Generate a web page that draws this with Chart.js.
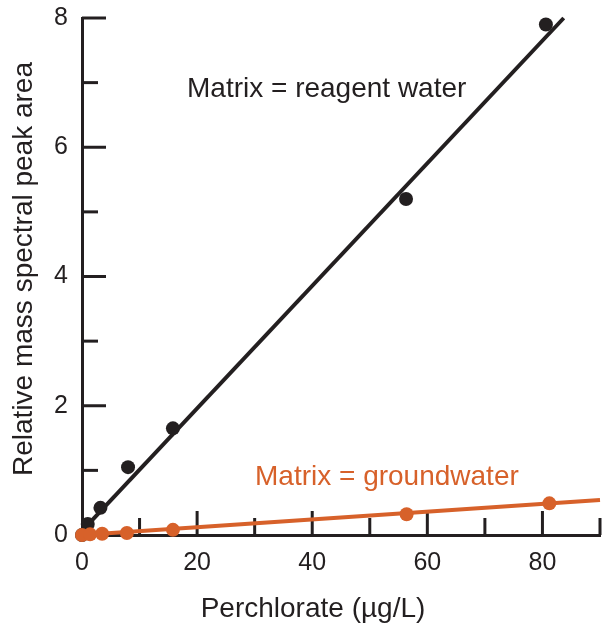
<!DOCTYPE html>
<html>
<head>
<meta charset="utf-8">
<script src="https://cdn.jsdelivr.net/npm/chart.js@4.4.1/dist/chart.umd.min.js"></script>
<style>
html,body{margin:0;padding:0;background:#fff;}
#wrap{width:602px;height:627px;}
</style>
</head>
<body>
<div id="wrap"><canvas id="c" width="602" height="627"></canvas></div>
<script>
// ---- data ----
const reagentX = [0, 1, 3.2, 8, 15.8, 56.3, 80.6];
const reagentY = [0, 0.17, 0.42, 1.05, 1.65, 5.2, 7.9];
const groundX = [0, 1.4, 3.5, 7.8, 15.8, 56.4, 81.2];
const groundY = [0, 0.01, 0.02, 0.03, 0.08, 0.32, 0.49];
const reagentFitX = [0.3, 83.7];
const reagentFitY = [0.09, 8.0];
const groundFitX = [0, 90];
const groundFitY = [0, 0.54];
const xTickLabels = [0, 20, 40, 60, 80];
const yTickLabels = [0, 2, 4, 6, 8];
const seriesNames = ['Matrix = reagent water', 'Matrix = groundwater'];
const xTitle = 'Perchlorate (\u00b5g/L)';
const yTitle = 'Relative mass spectral peak area';

const BLACK = '#231f20';
const ORANGE = '#d7612a';
const FONT = "'Liberation Sans', Arial, Helvetica, sans-serif";

const pts = (xs, ys) => xs.map((x, i) => ({x: x, y: ys[i]}));

const tickPlugin = {
  id: 'inwardTicks',
  beforeDatasetsDraw(chart) {
    const ctx = chart.ctx;
    const xs = chart.scales.x, ys = chart.scales.y;
    const left = chart.chartArea.left, bottom = chart.chartArea.bottom;
    ctx.save();
    ctx.strokeStyle = BLACK;
    ctx.lineWidth = 3;
    ctx.lineCap = 'butt';
    xs.ticks.forEach(t => {
      if (t.value === 0) return;
      const px = xs.getPixelForValue(t.value);
      const len = xTickLabels.includes(t.value) ? 24 : 17;
      ctx.beginPath(); ctx.moveTo(px, bottom); ctx.lineTo(px, bottom - len); ctx.stroke();
    });
    ys.ticks.forEach(t => {
      if (t.value === 0) return;
      const py = ys.getPixelForValue(t.value);
      const len = yTickLabels.includes(t.value) ? 24 : 16;
      ctx.beginPath(); ctx.moveTo(left, py); ctx.lineTo(left + len, py); ctx.stroke();
    });
    ctx.restore();
  },
  afterDraw(chart) {
    const ctx = chart.ctx;
    ctx.save();
    ctx.font = '28px ' + FONT;
    ctx.textAlign = 'left';
    ctx.textBaseline = 'alphabetic';
    ctx.fillStyle = BLACK;
    ctx.fillText(seriesNames[0], 187, 97);
    ctx.fillStyle = ORANGE;
    ctx.fillText(seriesNames[1], 255, 485);
    // axis titles
    ctx.fillStyle = BLACK;
    ctx.textAlign = 'center';
    ctx.fillText(xTitle, 313, 617);
    ctx.translate(32, 269);
    ctx.rotate(-Math.PI / 2);
    ctx.fillText(yTitle, 0, 0);
    ctx.restore();
  }
};

const zeroPad = s => { s.paddingLeft = 0; s.paddingRight = 0; s.paddingTop = 0; s.paddingBottom = 0; };

new Chart(document.getElementById('c'), {
  type: 'scatter',
  data: {
    datasets: [
      {label: seriesNames[0] + ' fit', data: pts(reagentFitX, reagentFitY), showLine: true, borderColor: BLACK, borderWidth: 4, pointRadius: 0, clip: false, order: 3},
      {label: seriesNames[0], data: pts(reagentX, reagentY), backgroundColor: BLACK, borderColor: BLACK, pointRadius: 7, borderWidth: 0, clip: false, order: 4},
      {label: seriesNames[1] + ' fit', data: pts(groundFitX, groundFitY), showLine: true, borderColor: ORANGE, borderWidth: 4, pointRadius: 0, clip: false, order: 2},
      {label: seriesNames[1], data: pts(groundX, groundY), backgroundColor: ORANGE, borderColor: ORANGE, pointRadius: 7, borderWidth: 0, clip: false, order: 1}
    ]
  },
  options: {
    responsive: false,
    animation: false,
    devicePixelRatio: 1,
    layout: {autoPadding: false, padding: {top: 18, right: 2, left: 0, bottom: 0}},
    plugins: {legend: {display: false}, tooltip: {enabled: false}},
    scales: {
      x: {
        type: 'linear', min: 0, max: 90,
        grid: {display: false, drawTicks: false},
        border: {display: true, color: BLACK, width: 3},
        ticks: {
          stepSize: 10, autoSkip: false, maxRotation: 0, padding: 13,
          color: BLACK, font: {family: FONT, size: 25},
          callback: v => xTickLabels.includes(v) ? String(v) : ''
        },
        title: {display: false, text: xTitle},
        afterFit: s => { s.height = 92; zeroPad(s); }
      },
      y: {
        type: 'linear', min: 0, max: 8,
        grid: {display: false, drawTicks: false},
        border: {display: true, color: BLACK, width: 3},
        ticks: {
          stepSize: 1, autoSkip: false, padding: 14,
          color: BLACK, font: {family: FONT, size: 25},
          callback: v => yTickLabels.includes(v) ? String(v) : ''
        },
        title: {display: false, text: yTitle},
        afterFit: s => { s.width = 82; zeroPad(s); }
      }
    }
  },
  plugins: [tickPlugin]
});
</script>
</body>
</html>
